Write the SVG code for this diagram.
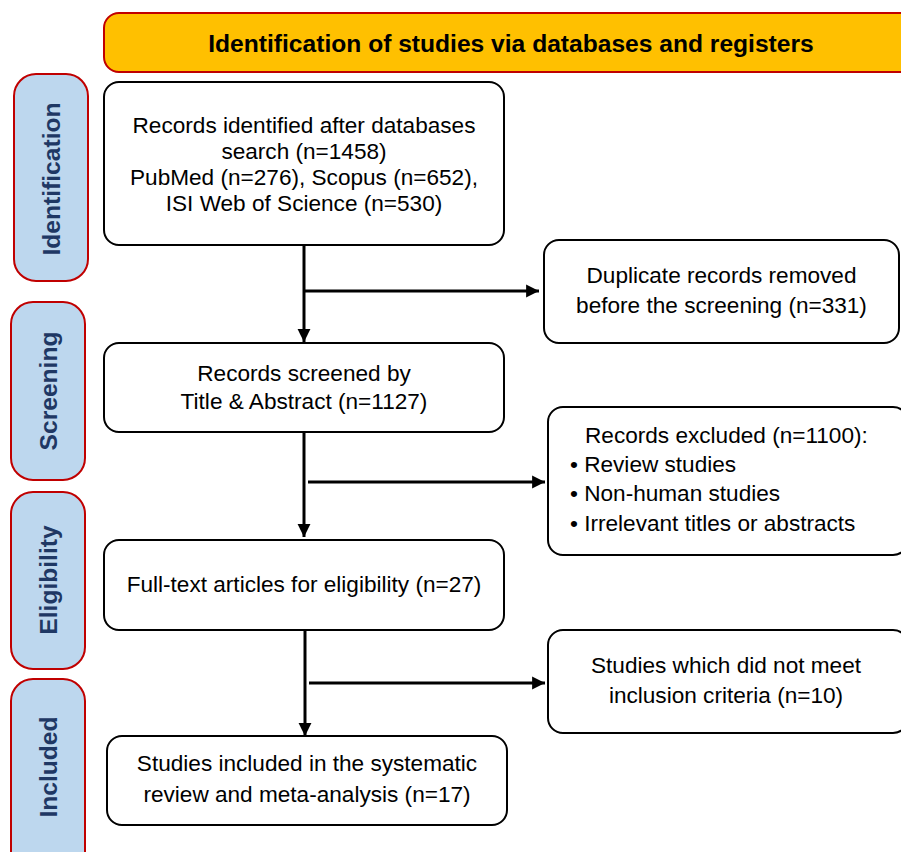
<svg xmlns="http://www.w3.org/2000/svg" width="901" height="852" viewBox="0 0 901 852">
  <defs>
    <style>
      .hdr { fill: #FFC000; stroke: #C00000; stroke-width: 2; }
      .hdrt { font-family: "Liberation Sans", Arial, sans-serif; font-size: 24.6px; font-weight: bold; fill: #000; text-anchor: middle; }
      .side { fill: #BDD7EE; stroke: #C00000; stroke-width: 2; }
      .sidet { font-family: "Liberation Sans", Arial, sans-serif; font-size: 24.6px; font-weight: bold; fill: #1F3864; text-anchor: middle; }
      .box { fill: #fff; stroke: #000; stroke-width: 2; }
      .t { font-family: "Liberation Sans", Arial, sans-serif; font-size: 22.6px; fill: #000; text-anchor: middle; }
      .tl { font-family: "Liberation Sans", Arial, sans-serif; font-size: 22.6px; fill: #000; text-anchor: start; }
      .con { stroke: #000; stroke-width: 3; fill: none; }
    </style>
    <marker id="ah" viewBox="0 0 10 10" refX="10" refY="5" markerWidth="4.3" markerHeight="4.5" markerUnits="strokeWidth" orient="auto">
      <path d="M0,0 L10,5 L0,10 Z" fill="#000"/>
    </marker>
  </defs>

  <g id="header">
    <rect class="hdr" x="104" y="13" width="820" height="59" rx="15"/>
    <text class="hdrt" x="511" y="52">Identification of studies via databases and registers</text>
  </g>

  <g id="stage-identification">
    <rect class="side" x="14" y="74" width="74" height="207" rx="22"/>
    <text class="sidet" transform="translate(60,179) rotate(-90)">Identification</text>
  </g>
  <g id="stage-screening">
    <rect class="side" x="11" y="302" width="74" height="178" rx="22"/>
    <text class="sidet" transform="translate(57,391) rotate(-90)">Screening</text>
  </g>
  <g id="stage-eligibility">
    <rect class="side" x="11" y="492" width="74" height="177" rx="22"/>
    <text class="sidet" transform="translate(57,580) rotate(-90)">Eligibility</text>
  </g>
  <g id="stage-included">
    <rect class="side" x="11" y="679" width="74" height="200" rx="22"/>
    <text class="sidet" transform="translate(57,767) rotate(-90)">Included</text>
  </g>

  <g id="connectors">
    <line class="con" x1="304" y1="245" x2="304" y2="342" marker-end="url(#ah)"/>
    <line class="con" x1="304" y1="291" x2="539" y2="291" marker-end="url(#ah)"/>
    <line class="con" x1="304" y1="432" x2="304" y2="537" marker-end="url(#ah)"/>
    <line class="con" x1="308" y1="482" x2="545" y2="482" marker-end="url(#ah)"/>
    <line class="con" x1="305" y1="630" x2="305" y2="736" marker-end="url(#ah)"/>
    <line class="con" x1="309" y1="683" x2="545" y2="683" marker-end="url(#ah)"/>
  </g>

  <g id="records-identified">
    <rect class="box" x="104" y="82" width="400" height="163" rx="15"/>
    <text class="t" x="304" y="133">Records identified after databases</text>
    <text class="t" x="304" y="159">search (n=1458)</text>
    <text class="t" x="304" y="185">PubMed (n=276), Scopus (n=652),</text>
    <text class="t" x="304" y="211">ISI Web of Science (n=530)</text>
  </g>

  <g id="duplicates-removed">
    <rect class="box" x="544" y="240" width="355" height="103" rx="15"/>
    <text class="t" x="721.5" y="283">Duplicate records removed</text>
    <text class="t" x="721.5" y="313">before the screening (n=331)</text>
  </g>

  <g id="records-screened">
    <rect class="box" x="104" y="343" width="400" height="89" rx="15"/>
    <text class="t" x="304" y="381">Records screened by</text>
    <text class="t" x="304" y="409">Title &amp; Abstract (n=1127)</text>
  </g>

  <g id="records-excluded">
    <rect class="box" x="548" y="407" width="360" height="148" rx="15"/>
    <text class="tl" x="585" y="443">Records excluded (n=1100):</text>
    <text class="tl" x="570" y="472">• Review studies</text>
    <text class="tl" x="570" y="501">• Non-human studies</text>
    <text class="tl" x="570" y="531">• Irrelevant titles or abstracts</text>
  </g>

  <g id="full-text">
    <rect class="box" x="104" y="540" width="400" height="90" rx="15"/>
    <text class="t" x="304" y="592">Full-text articles for eligibility (n=27)</text>
  </g>

  <g id="not-meeting-criteria">
    <rect class="box" x="548" y="630" width="360" height="103" rx="15"/>
    <text class="t" x="726" y="673">Studies which did not meet</text>
    <text class="t" x="726" y="703">inclusion criteria (n=10)</text>
  </g>

  <g id="studies-included">
    <rect class="box" x="107" y="736" width="400" height="89" rx="15"/>
    <text class="t" x="307" y="771">Studies included in the systematic</text>
    <text class="t" x="307" y="802">review and meta-analysis (n=17)</text>
  </g>
</svg>
